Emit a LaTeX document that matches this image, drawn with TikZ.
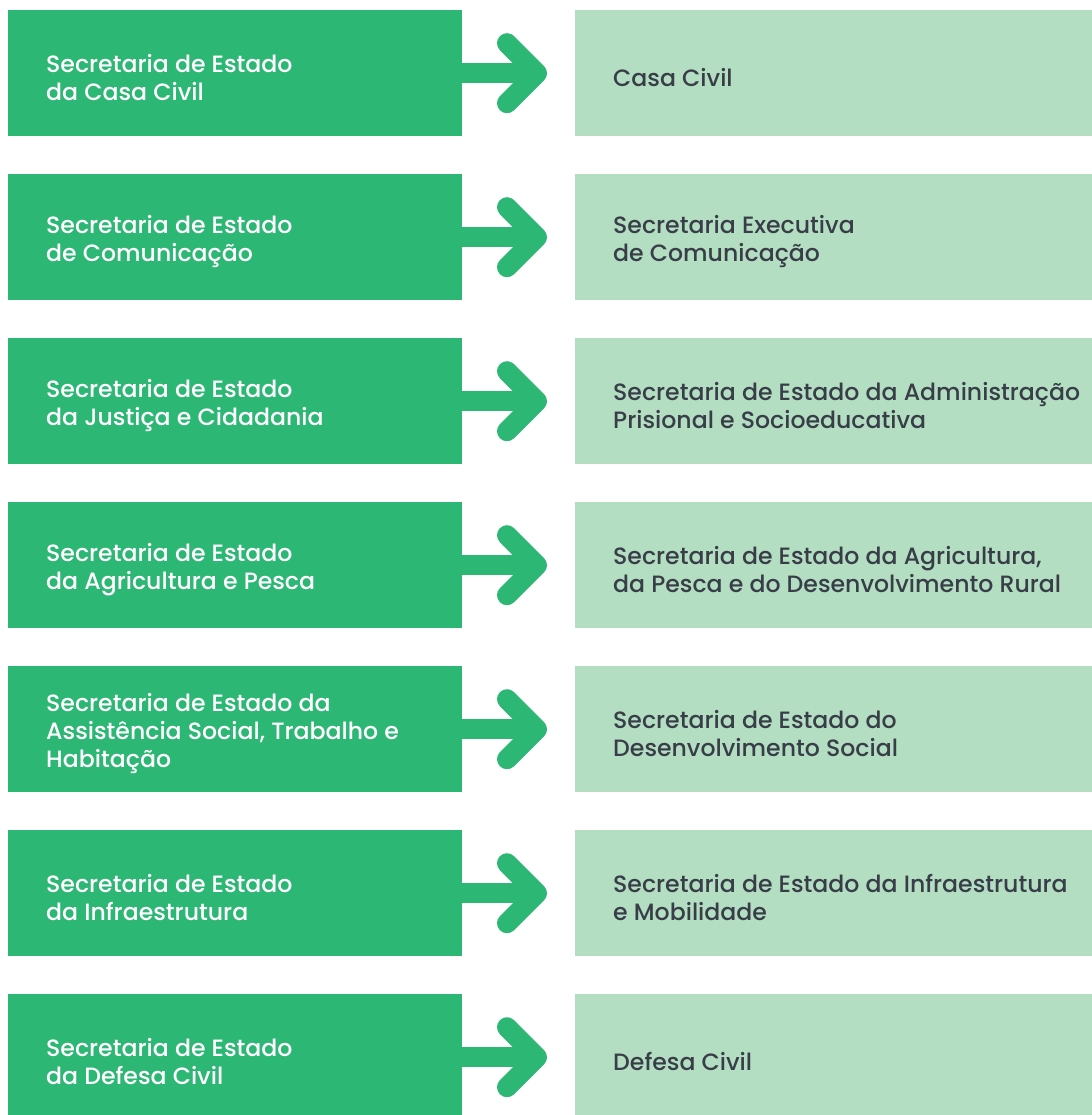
\documentclass[tikz,border=0pt]{standalone}
\usepackage{fontspec}
\setmainfont{Poppins}[UprightFont={* Medium}]
\definecolor{dkgreen}{RGB}{45,183,116}
\definecolor{ltgreen}{RGB}{179,222,194}
\definecolor{txtdark}{RGB}{56,61,72}
\begin{document}
\begin{tikzpicture}[x=1pt,y=-1pt,
  lbox/.style={fill=dkgreen,draw=none,anchor=north west,minimum width=454pt,minimum height=126pt,inner sep=0pt},
  rbox/.style={fill=ltgreen,draw=none,anchor=north west,minimum width=530pt,minimum height=126pt,inner sep=0pt},
  ltext/.style={anchor=west,align=left,text=white,inner sep=0pt,font=\fontsize{23.6}{28}\selectfont},
  rtext/.style={anchor=west,align=left,text=txtdark,inner sep=0pt,font=\fontsize{23.6}{28}\selectfont},
  shaft/.style={draw=dkgreen,line width=20pt},
  chev/.style={draw=dkgreen,line width=20pt,line cap=round,line join=round}]
\useasboundingbox (0,0) rectangle (1091,1115);
\foreach \i/\lt/\rt in {
 1/{Secretaria de Estado\\da Casa Civil}/{Casa Civil},
 2/{Secretaria de Estado\\de Comunicação}/{Secretaria Executiva\\de Comunicação},
 3/{Secretaria de Estado\\da Justiça e Cidadania}/{Secretaria de Estado da Administração\\Prisional e Socioeducativa},
 4/{Secretaria de Estado\\da Agricultura e Pesca}/{Secretaria de Estado da Agricultura,\\da Pesca e do Desenvolvimento Rural},
 5/{Secretaria de Estado da\\Assistência Social, Trabalho e\\Habitação}/{Secretaria de Estado do\\Desenvolvimento Social},
 6/{Secretaria de Estado\\da Infraestrutura}/{Secretaria de Estado da Infraestrutura\\e Mobilidade},
 7/{Secretaria de Estado\\da Defesa Civil}/{Defesa Civil}}{
  \pgfmathsetmacro{\yy}{10+164*(\i-1)}
  \node[lbox] (L\i) at (8,\yy) {};
  \node[rbox] (R\i) at (575,\yy) {};
  \node[ltext] (LT\i) at ([xshift=38pt,yshift=-4pt]L\i.west) {\lt};
  \node[rtext] (RT\i) at ([xshift=38pt,yshift=-4pt]R\i.west) {\rt};
  \draw[shaft] (L\i.east) -- ([xshift=-45pt]R\i.west);
  \draw[chev] ([xshift=-68pt,yshift=30pt]R\i.west) -- ([xshift=-38pt]R\i.west) -- ([xshift=-68pt,yshift=-30pt]R\i.west);
}
\end{tikzpicture}
\end{document}
